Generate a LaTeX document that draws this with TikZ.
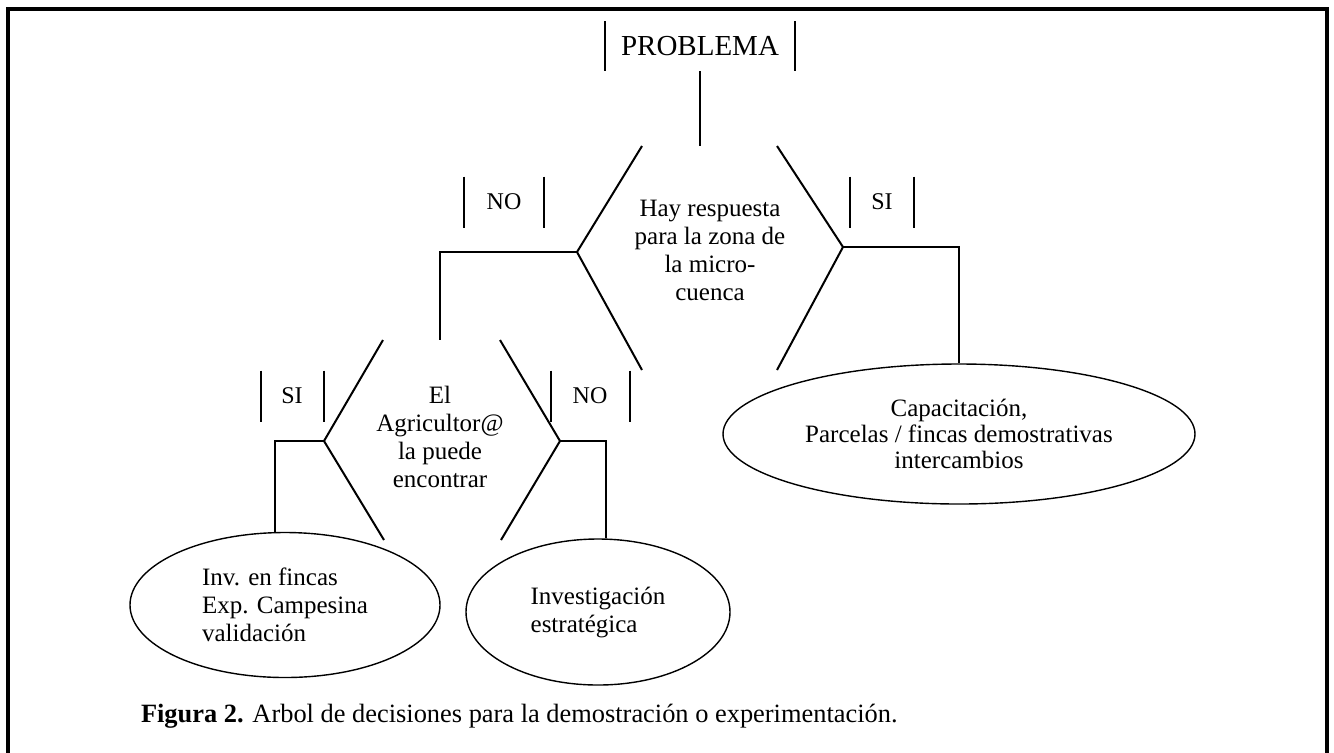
\documentclass[tikz,border=0pt]{standalone}
\usepackage{fontspec}
\setmainfont{Liberation Serif}
\usetikzlibrary{shapes.geometric,positioning}

\begin{document}
\begin{tikzpicture}[x=0.5pt, y=-0.5pt, line width=1pt,
        txt/.style={font=\fontsize{12.5}{14}\selectfont, align=center},
        tag/.style={font=\fontsize{12}{14}\selectfont, minimum height=24.5pt, inner sep=0pt},
        result/.style={ellipse, draw, line width=0.7pt, inner sep=0pt, font=\fontsize{12.5}{14}\selectfont}]
    \useasboundingbox (0,0) rectangle (1334,752);
    % frame, open at the bottom
    \draw[line width=1.8pt] (8,790) -- (8,9) -- (1327,9) -- (1327,790);

    % labels between bars
    \node[tag, font=\fontsize{14.5}{16}\selectfont, minimum width=94pt, minimum height=24pt] (problema) at (700,46) {PROBLEMA};
    \node[tag, minimum width=39pt] (no1) at (504,202) {NO};
    \node[tag, minimum width=31pt] (si1) at (882,202) {SI};
    \node[tag, minimum width=30.5pt] (si2) at (292,396) {SI};
    \node[tag, minimum width=38.5pt] (no2) at (590,396) {NO};
    \foreach \n in {problema,no1,si1,si2,no2}
        \draw (\n.north west) -- (\n.south west) (\n.north east) -- (\n.south east);

    % decisions
    \node[txt] (zona) at (710,250) {Hay respuesta\\para la zona de\\la micro-\\cuenca};
    \coordinate (zona-tl) at (642,146);
    \coordinate (zona-tr) at (777,146);
    \coordinate (zona-l) at (577,252);
    \coordinate (zona-r) at (843,247);
    \coordinate (zona-bl) at (642,370);
    \coordinate (zona-br) at (777,370);
    \draw (zona-tl) -- (zona-l) -- (zona-bl);
    \draw (zona-tr) -- (zona-r) -- (zona-br);

    \node[txt] (agric) at (440,437) {El\\Agricultor@\\la puede\\encontrar};
    \coordinate (agric-tl) at (383,340);
    \coordinate (agric-tr) at (500,340);
    \coordinate (agric-l) at (324,441);
    \coordinate (agric-r) at (560,441);
    \coordinate (agric-bl) at (384,540);
    \coordinate (agric-br) at (501,540);
    \draw (agric-tl) -- (agric-l) -- (agric-bl);
    \draw (agric-tr) -- (agric-r) -- (agric-br);

    % outcomes
    \node[result, minimum width=236pt, minimum height=70pt, align=center, font=\fontsize{12.5}{13}\selectfont] (capac) at (959,434)
        {Capacitación,\\Parcelas / fincas demostrativas\\intercambios};
    \node[result, minimum width=155pt, minimum height=72.5pt, align=left] (invfin) at (285,605)
        {Inv. en fincas\\Exp. Campesina\\validación};
    \node[result, minimum width=132pt, minimum height=73pt, align=left] (invest) at (598,612)
        {Investigación\\estratégica};

    % connectors
    \draw (problema.south) -- (problema.south |- zona-tl);
    \draw (zona-l) -| (agric.north |- agric-tl);
    \draw (zona-r) -| (capac.north);
    \draw (agric-l) -| (invfin.98);
    \draw (agric-r) -| (invest.84);

    \node[anchor=west, inner sep=0pt, font=\fontsize{13.2}{15}\selectfont] (caption) at (140,716)
        {\textbf{Figura 2.} Arbol de decisiones para la demostración o experimentación.};
\end{tikzpicture}
\end{document}
